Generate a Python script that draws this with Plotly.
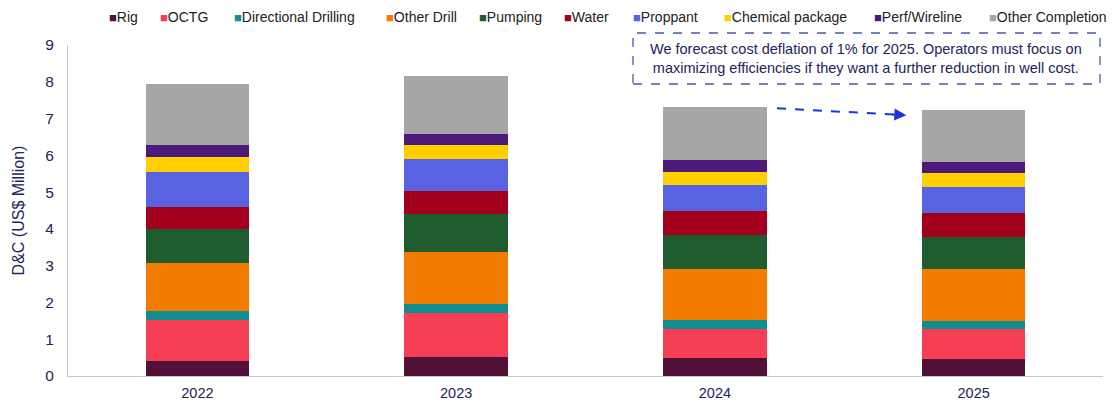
import plotly.graph_objects as go

years = ["2022", "2023", "2024", "2025"]
components = ["Rig", "OCTG", "Directional Drilling", "Other Drill", "Pumping",
              "Water", "Proppant", "Chemical package", "Perf/Wireline", "Other Completion"]
rig = [0.41, 0.51, 0.49, 0.46]
octg = [1.11, 1.21, 0.80, 0.82]
directional = [0.25, 0.23, 0.23, 0.22]
other_drill = [1.29, 1.43, 1.40, 1.41]
pumping = [0.94, 1.02, 0.91, 0.87]
water = [0.60, 0.64, 0.65, 0.64]
proppant = [0.96, 0.85, 0.70, 0.72]
chemical = [0.40, 0.39, 0.38, 0.37]
perf = [0.32, 0.31, 0.31, 0.31]
other_completion = [1.67, 1.56, 1.45, 1.41]
series = [rig, octg, directional, other_drill, pumping, water, proppant, chemical, perf, other_completion]
colors = ["#521238", "#f53f55", "#0e8e8e", "#f27c00", "#1f5c2e",
          "#a3001e", "#5763e0", "#ffd000", "#4c1a7a", "#a6a6a6"]

navy = "#23235a"
W, H = 1118, 410
ML, MR, MT, MB = 68, 15, 45, 34
plot_w = W - ML - MR
plot_h = H - MT - MB

fig = go.Figure()
for name, vals, c in zip(components, series, colors):
    fig.add_trace(go.Bar(x=years, y=vals, name=name, marker=dict(color=c, line=dict(width=0))))

fig.update_layout(
    barmode="stack",
    bargap=0.6,
    width=W, height=H,
    margin=dict(l=ML, r=MR, t=MT, b=MB, autoexpand=False),
    plot_bgcolor="white", paper_bgcolor="white",
    font=dict(family="Liberation Sans, Arial", size=14, color=navy),
    showlegend=False,
)
fig.update_xaxes(showline=True, linecolor="#c8c8c8", linewidth=1, ticks="",
                 tickfont=dict(size=14.5, color=navy), range=[-0.5, 3.5], ticklabelstandoff=4)
fig.update_yaxes(range=[0, 9], dtick=1, showgrid=False, zeroline=False,
                 showline=True, linecolor="#c8c8c8", linewidth=1, ticks="",
                 tickfont=dict(size=15.5, color=navy), ticklabelstandoff=10,
                 title=dict(text="D&C (US$ Million)", font=dict(size=16, color=navy), standoff=16))

def px_x(p):
    return (p - ML) / plot_w

def px_y(p):
    return 1 - (p - MT) / plot_h

# Legend drawn as text entries along the top (square glyph + label)
legend_px = [107, 158, 232, 384, 477, 562, 631, 722, 872, 987]
for name, c, px in zip(components, colors, legend_px):
    fig.add_annotation(xref="paper", yref="paper", x=px_x(px), y=px_y(17),
                       xanchor="left", yanchor="middle", showarrow=False,
                       text=f'<span style="color:{c};font-size:13px">■</span>{name}',
                       font=dict(size=14, color="#222222"))

# Callout box
fig.add_shape(type="rect", xref="paper", yref="paper", x0=px_x(633), x1=px_x(1100), y0=px_y(84), y1=px_y(33),
              line=dict(color="#4a5aa8", width=1.3, dash="dash"), fillcolor="white")
fig.add_annotation(xref="paper", yref="paper", x=px_x(866), y=px_y(58), xanchor="center", yanchor="middle",
                   showarrow=False,
                   text="We forecast cost deflation of 1% for 2025. Operators must focus on<br>maximizing efficiencies if they want a further reduction in well cost.",
                   font=dict(size=14.5, color=navy), align="center")
# Dashed arrow
fig.add_shape(type="line", xref="x", yref="y", x0=2.24, y0=7.28, x1=2.69, y1=7.11,
              line=dict(color="#1a35e0", width=2, dash="dash"))
fig.add_annotation(xref="x", yref="y", x=2.74, y=7.09, axref="x", ayref="y", ax=2.68, ay=7.115,
                   showarrow=True, arrowhead=2, arrowsize=1.2, arrowwidth=2, arrowcolor="#1a35e0", text="")

fig.write_html("out.html", config={"displayModeBar": False},
               post_script="document.body.style.margin='0';")
